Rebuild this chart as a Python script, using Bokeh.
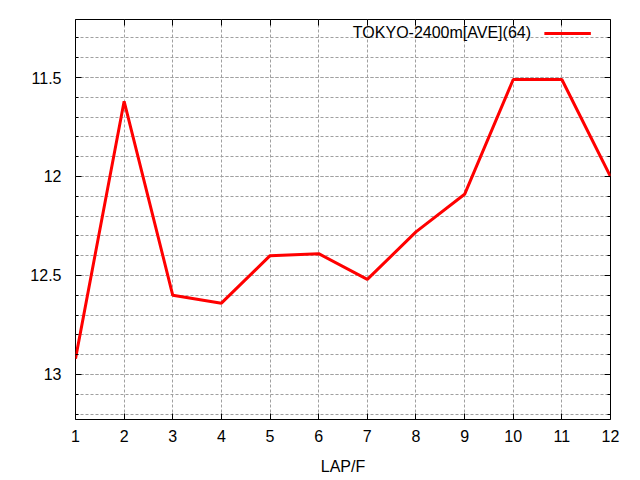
from bokeh.plotting import figure
from bokeh.models import (Range1d, FixedTicker, LinearAxis, CustomJSTickFormatter,
                          Legend, LegendItem)
from bokeh.embed import file_html
from bokeh.resources import INLINE

# ---- data ----
laps = [1, 2, 3, 4, 5, 6, 7, 8, 9, 10, 11, 12]
times = [12.92, 11.62, 12.60, 12.64, 12.40, 12.39, 12.52, 12.28, 12.09, 11.51, 11.51, 12.00]
series_label = "TOKYO-2400m[AVE](64)"
x_label = "LAP/F"
y_major = [11.5, 12.0, 12.5, 13.0]
y_minor = [11.3, 11.4, 11.5, 11.6, 11.7, 11.8, 11.9, 12.0, 12.1, 12.2, 12.3, 12.4,
           12.5, 12.6, 12.7, 12.8, 12.9, 13.0, 13.1, 13.2]
x_major = [1, 2, 3, 4, 5, 6, 7, 8, 9, 10, 11, 12]

FONT = "Liberation Sans"
GRID = "#a0a0a0"

p = figure(width=640, height=480, output_backend="svg", toolbar_location=None,
           x_range=Range1d(1, 12), y_range=Range1d(13.2275, 11.207),
           min_border_left=75, min_border_right=30, min_border_top=19, min_border_bottom=61)
p.background_fill_color = "white"
p.border_fill_color = "white"
p.outline_line_color = "black"
p.outline_line_width = 1
p.outline_line_alpha = 1

xt = FixedTicker(ticks=x_major)
yt = FixedTicker(ticks=y_major, minor_ticks=y_minor)
yfmt = CustomJSTickFormatter(code="return String(tick);")
blank = CustomJSTickFormatter(code="return '';")

def style_axis(ax, labels=True):
    ax.axis_line_color = None
    ax.major_tick_in = 6
    ax.major_tick_out = 0
    ax.minor_tick_in = 3
    ax.minor_tick_out = 0
    ax.major_tick_line_color = "black"
    ax.minor_tick_line_color = "black"
    ax.major_label_text_font = FONT
    ax.major_label_text_font_size = "16px" if labels else "0px"
    ax.major_label_text_color = "black"

# bottom axis
xa = p.xaxis[0]
xa.ticker = xt
style_axis(xa)
xa.minor_tick_in = 0
xa.major_label_standoff = 10
xa.axis_label = x_label
xa.axis_label_text_font = FONT
xa.axis_label_text_font_size = "16px"
xa.axis_label_text_font_style = "normal"
xa.axis_label_text_color = "black"
xa.axis_label_standoff = 13

# left axis
ya = p.yaxis[0]
ya.ticker = yt
ya.formatter = yfmt
style_axis(ya)
ya.major_label_standoff = 14

# mirror axes
ra = LinearAxis(ticker=yt, formatter=blank)
style_axis(ra, labels=False)
ra.major_label_standoff = 0
p.add_layout(ra, "right")
ta = LinearAxis(ticker=xt, formatter=blank)
style_axis(ta, labels=False)
ta.minor_tick_in = 0
ta.major_label_standoff = 0
p.add_layout(ta, "above")

# grids
p.xgrid.ticker = xt
p.ygrid.ticker = yt
for g in (p.xgrid[0], p.ygrid[0]):
    g.grid_line_color = GRID
    g.grid_line_dash = "3 2"
    g.grid_line_width = 1
p.ygrid[0].minor_grid_line_color = GRID
p.ygrid[0].minor_grid_line_dash = "3 2"

# data line
r = p.line(laps, times, line_color="#ff0000", line_width=3, line_join="bevel")
dummy = p.line(laps, times, line_alpha=0)

legend = Legend(items=[LegendItem(label=series_label, renderers=[dummy]),
                       LegendItem(label=" ", renderers=[r])],
                location="top_right", orientation="horizontal",
                glyph_width=47, glyph_height=20, label_height=20,
                label_width=15, label_standoff=0, spacing=13,
                padding=0, margin=4,
                background_fill_alpha=0, border_line_alpha=0,
                label_text_font=FONT, label_text_font_size="16px",
                label_text_color="black")
p.add_layout(legend)

open("out.html", "w").write(file_html(p, INLINE))
